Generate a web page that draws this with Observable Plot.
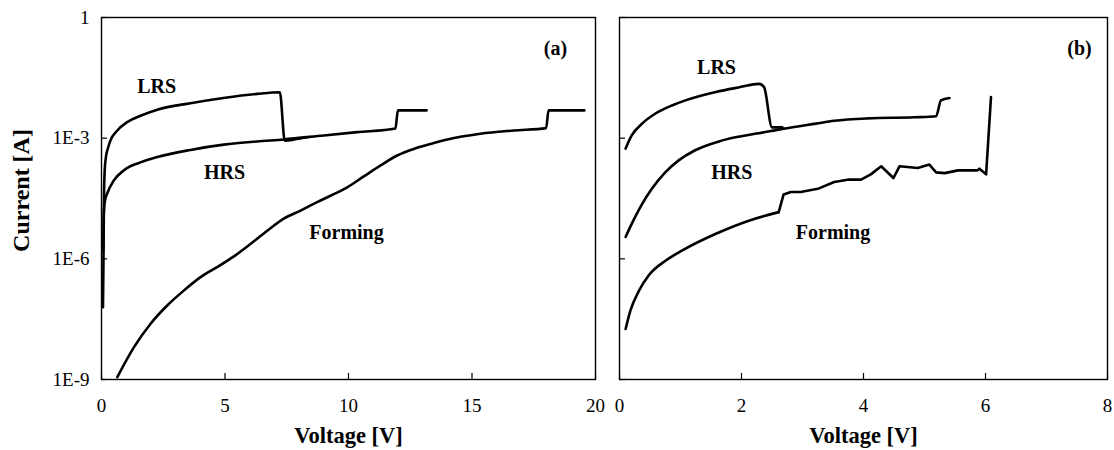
<!DOCTYPE html>
<html><head><meta charset="utf-8">
<script src="https://cdn.jsdelivr.net/npm/d3@7"></script>
<script src="https://cdn.jsdelivr.net/npm/@observablehq/plot@0.6"></script>
<style>body{margin:0;background:#fff} #c{display:flex;width:1114px;height:450px}</style>
</head><body><div id="c"></div>
<script>
// ---------- Panel (a) ----------
const aLrsV = [0.06, 0.08, 0.10, 0.13, 0.18, 0.26, 0.36, 0.64, 1.04, 1.58, 2.26, 3.60, 4.94, 6.30, 7.22, 7.42, 7.90, 8.33];
const aLrsI = [6.3e-8, 1.0e-6, 3.2e-5, 1.6e-4, 3.4e-4, 5.6e-4, 8.7e-4, 1.55e-3, 2.5e-3, 3.6e-3, 5.1e-3, 7.4e-3, 1.0e-2, 1.26e-2, 1.38e-2, 8.7e-4, 9.5e-4, 1.05e-3];
const aHrsV = [0.07, 0.09, 0.14, 0.23, 0.50, 0.90, 1.58, 2.26, 3.60, 4.95, 6.30, 7.38, 9.0, 10.35, 11.90, 12.0, 13.16];
const aHrsI = [1.6e-6, 1.26e-5, 2.8e-5, 4.2e-5, 8.9e-5, 1.58e-4, 2.5e-4, 3.4e-4, 5.1e-4, 6.9e-4, 8.3e-4, 9.3e-4, 1.17e-3, 1.41e-3, 1.74e-3, 4.9e-3, 4.9e-3];
const aFormV = [0.64, 1.31, 1.98, 2.66, 3.33, 4.01, 4.68, 5.36, 6.03, 6.71, 7.38, 8.06, 8.73, 9.27, 9.95, 10.62, 11.30, 11.97, 12.64, 13.32, 14.0, 15.34, 16.69, 18.0, 18.1, 19.55];
const aFormI = [1.15e-9, 6.3e-9, 2.4e-8, 6.9e-8, 1.62e-7, 3.5e-7, 6.2e-7, 1.15e-6, 2.34e-6, 5.0e-6, 1.0e-5, 1.58e-5, 2.57e-5, 3.7e-5, 6.0e-5, 1.12e-4, 2.1e-4, 3.7e-4, 5.4e-4, 7.2e-4, 9.3e-4, 1.29e-3, 1.55e-3, 1.78e-3, 4.9e-3, 4.9e-3];

// ---------- Panel (b) ----------
const bLrsV = [0.10, 0.20, 0.37, 0.59, 0.86, 1.08, 1.58, 1.95, 2.29, 2.37, 2.50, 2.67];
const bLrsI = [5.5e-4, 1.17e-3, 2.3e-3, 4.1e-3, 6.5e-3, 8.7e-3, 1.41e-2, 1.82e-2, 2.24e-2, 1.86e-2, 1.86e-3, 1.86e-3];
const bHrsV = [0.10, 0.20, 0.37, 0.53, 0.75, 0.97, 1.24, 1.63, 1.90, 2.28, 2.67, 3.22, 3.52, 4.07, 4.83, 5.19, 5.27, 5.41];
const bHrsI = [3.5e-6, 7.4e-6, 2.3e-5, 5.5e-5, 1.41e-4, 2.8e-4, 5.0e-4, 8.3e-4, 1.05e-3, 1.32e-3, 1.7e-3, 2.3e-3, 2.7e-3, 3.1e-3, 3.3e-3, 3.5e-3, 8.7e-3, 1.0e-2];
const bFormV = [0.10, 0.18, 0.32, 0.48, 0.76, 1.03, 1.58, 2.12, 2.61, 2.69, 2.81, 2.97, 3.25, 3.52, 3.74, 3.96, 4.12, 4.29, 4.49, 4.59, 4.89, 5.08, 5.19, 5.33, 5.55, 5.87, 5.90, 6.01, 6.09];
const bFormI = [1.8e-8, 5.2e-8, 1.62e-7, 3.9e-7, 9.1e-7, 1.62e-6, 4.2e-6, 8.9e-6, 1.45e-5, 4.0e-5, 4.6e-5, 4.6e-5, 5.5e-5, 8.1e-5, 9.3e-5, 9.3e-5, 1.26e-4, 2.0e-4, 1.02e-4, 2.0e-4, 1.82e-4, 2.2e-4, 1.41e-4, 1.35e-4, 1.58e-4, 1.58e-4, 1.74e-4, 1.26e-4, 1.05e-2];
const bFormSmoothEnd = 9; // points before the first step are a smooth sweep

// ---------- Ticks & labels ----------
const yTicks = [1e-9, 1e-6, 1e-3, 1];
const yTickLabels = ["1E-9", "1E-6", "1E-3", "1"];
const aXTicks = [0, 5, 10, 15, 20];
const bXTicks = [0, 2, 4, 6, 8];
const annotText = ["LRS", "HRS", "Forming"];
const aAnnotV = [2.23, 4.98, 9.92];
const aAnnotI = [0.0193, 1.4e-4, 4.5e-6];
const bAnnotV = [1.59, 1.84, 3.50];
const bAnnotI = [0.057, 1.4e-4, 4.5e-6];
const aTagV = 18.38, bTagV = 7.54, tagI = 0.17;
const xTitle = "Voltage [V]";
const yTitle = "Current [A]";

const FONT = "'Liberation Serif', 'Times New Roman', serif";
const rows = (v, i) => v.map((x, k) => ({v: x, i: i[k]}));
const annots = (vs, is, tag, tagV) => annotText.map((t, k) => ({t, v: vs[k], i: is[k]})).concat([{t: tag, v: tagV, i: tagI}]);

function panel({width, ml, mr, xDomain, xTicks, series, labels, showY}) {
  return Plot.plot({
    width, height: 450, marginLeft: ml, marginRight: mr, marginTop: 17, marginBottom: 71,
    style: {fontFamily: FONT, fontSize: "19px", color: "#000", background: "#fff"},
    x: {domain: xDomain},
    y: {type: "log", domain: [1e-9, 1]},
    marks: [
      Plot.frame({stroke: "#000", strokeWidth: 1.4}),
      Plot.axisX({ticks: xTicks, tickSize: -6, tickPadding: 25, tickFormat: d => String(d), label: null,
        strokeWidth: 1.2, fontFamily: FONT, fontSize: 19}),
      Plot.axisY({ticks: yTicks, tickSize: -6, tickPadding: 18, strokeWidth: 1.2, fontFamily: FONT, fontSize: 19,
        tickFormat: showY ? (d => yTickLabels[yTicks.indexOf(d)]) : (() => ""), label: null}),
      ...series.map(s => Plot.line(s.data, {x: "v", y: "i", stroke: "#000", strokeWidth: 2.6, strokeLinejoin: "round", strokeLinecap: "round", curve: s.curve})),
      Plot.text(labels, {x: "v", y: "i", text: "t", fontWeight: "bold", fontSize: 20, fontFamily: FONT}),
      Plot.text([xTitle], {frameAnchor: "bottom", dy: 63, fontWeight: "bold", fontSize: 22.5, fontFamily: FONT}),
      showY ? Plot.text([yTitle], {frameAnchor: "left", textAnchor: "middle", dx: -80, dy: -8, rotate: -90,
        fontWeight: "bold", fontSize: 24, fontFamily: FONT}) : null
    ]
  });
}

const bForm = rows(bFormV, bFormI);
const c = document.getElementById("c");
c.append(panel({
  width: 607, ml: 101, mr: 12, xDomain: [0, 20], xTicks: aXTicks,
  series: [
    {data: rows(aLrsV, aLrsI), curve: "monotone-x"},
    {data: rows(aHrsV, aHrsI), curve: "monotone-x"},
    {data: rows(aFormV, aFormI), curve: "monotone-x"}
  ],
  labels: annots(aAnnotV, aAnnotI, "(a)", aTagV), showY: true
}));
c.append(panel({
  width: 507, ml: 12, mr: 7, xDomain: [0, 8], xTicks: bXTicks,
  series: [
    {data: rows(bLrsV, bLrsI), curve: "monotone-x"},
    {data: rows(bHrsV, bHrsI), curve: "monotone-x"},
    {data: bForm.slice(0, bFormSmoothEnd), curve: "monotone-x"},
    {data: bForm.slice(bFormSmoothEnd - 1), curve: "linear"}
  ],
  labels: annots(bAnnotV, bAnnotI, "(b)", bTagV), showY: false
}));
</script>
</body></html>
